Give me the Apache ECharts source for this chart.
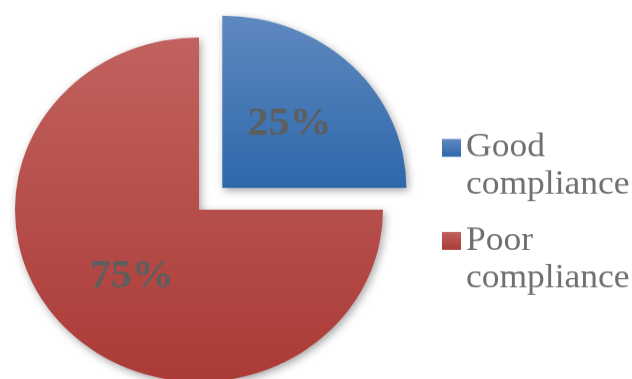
<!DOCTYPE html>
<html>
<head>
<meta charset="utf-8">
<script src="https://cdn.jsdelivr.net/npm/echarts@6/dist/echarts.min.js"></script>
<style>
html,body{margin:0;padding:0;background:#fff;overflow:hidden;width:632px;height:379px;}
#wrap{width:632px;height:379px;overflow:hidden;position:relative;}
#chart{width:632px;height:405px;transform:scaleY(0.9358);transform-origin:0 0;}
</style>
</head>
<body>
<div id="wrap"><div id="chart"></div></div>
<script>
const categories = ['Good compliance', 'Poor compliance'];
const legendLabels = [' \nGood\ncompliance', ' \nPoor\ncompliance'];
const values = [25, 75];
const topColors = ['#5f88c0', '#c1625f'];
const bottomColors = ['#2e68ab', '#ab3b37'];

const chart = echarts.init(document.getElementById('chart'), null, {renderer: 'canvas'});
const font = "'Liberation Serif', 'Times New Roman', serif";
const L = 40;

const data = categories.map((name, i) => ({
  name: name,
  value: values[i],
  selected: i === 0,
  itemStyle: {
    color: new echarts.graphic.LinearGradient(0, 0, 0, 1, [
      {offset: 0, color: topColors[i]},
      {offset: 1, color: bottomColors[i]}
    ])
  }
}));

chart.setOption({
  animation: false,
  backgroundColor: '#ffffff',
  legend: {
    orient: 'vertical',
    left: 442,
    top: 98,
    padding: 0,
    itemGap: -20.6,
    itemWidth: 19,
    itemHeight: 19,
    icon: 'rect',
    selectedMode: false,
    data: categories,
    formatter: function (name) { return legendLabels[categories.indexOf(name)]; },
    itemStyle: {borderWidth: 0, shadowBlur: 0},
    textStyle: {
      fontFamily: font,
      fontSize: 35.5,
      lineHeight: L,
      color: '#707070'
    }
  },
  series: [{
    type: 'pie',
    center: [199, 224],
    radius: [0, 184],
    startAngle: 90,
    clockwise: true,
    selectedMode: 'single',
    selectedOffset: 33,
    avoidLabelOverlap: false,
    emphasis: {disabled: true},
    itemStyle: {
      shadowBlur: 8,
      shadowColor: 'rgba(0,0,0,0.35)',
      shadowOffsetX: 2,
      shadowOffsetY: 3
    },
    label: {
      show: true,
      position: 'inside',
      formatter: '{d}%',
      fontFamily: font,
      fontWeight: 'bold',
      fontSize: 42,
      color: '#5e5e5e',
      offset: [0, 5]
    },
    labelLine: {show: false},
    data: data
  }]
});
</script>
</body>
</html>
